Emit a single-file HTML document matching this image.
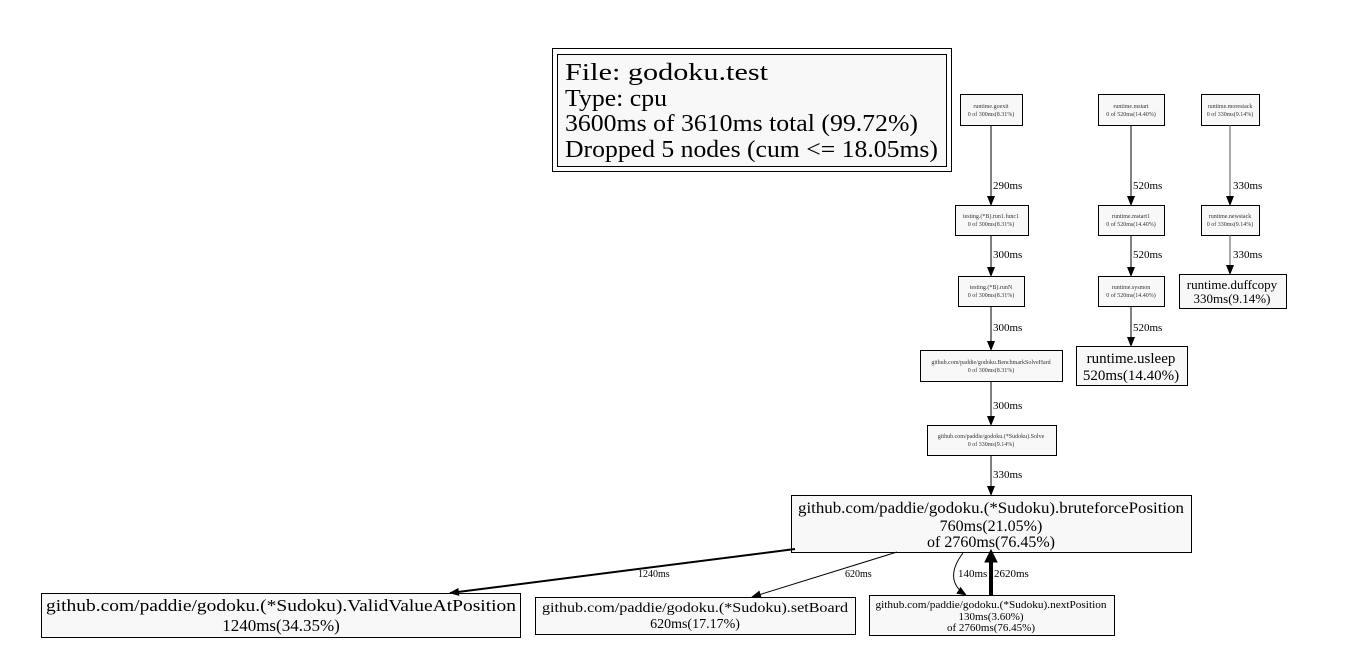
<!DOCTYPE html>
<html><head><meta charset="utf-8"><style>
html,body{margin:0;padding:0;background:#fff;}
svg{display:block;font-family:"Liberation Serif",serif;}
</style></head><body>
<svg width="1354" height="661" viewBox="0 0 1354 661" xmlns="http://www.w3.org/2000/svg">
<defs>
<marker id="a" markerWidth="10" markerHeight="10" refX="9" refY="5" orient="auto" markerUnits="userSpaceOnUse"><path d="M0,1 L10,5 L0,9 Z" fill="#000"/></marker>
</defs>
<g fill="#f8f8f8" stroke="#000" stroke-width="1">
<rect x="552.5" y="48.5" width="399" height="123" fill="#fff"/>
<rect x="557.5" y="54.5" width="389" height="112"/>
<rect x="960.5" y="94.5" width="62" height="31"/>
<rect x="1098.5" y="94.5" width="66" height="31"/>
<rect x="1201.5" y="94.5" width="58" height="31"/>
<rect x="955.5" y="205.5" width="73" height="30"/>
<rect x="1098.5" y="205.5" width="66" height="30"/>
<rect x="1201.5" y="205.5" width="58" height="30"/>
<rect x="958.5" y="276.5" width="66" height="30"/>
<rect x="1098.5" y="276.5" width="66" height="30"/>
<rect x="1179.5" y="274.5" width="107" height="34"/>
<rect x="920.5" y="350.5" width="142" height="31"/>
<rect x="1076.5" y="346.5" width="111" height="39"/>
<rect x="927.5" y="425.5" width="129" height="30"/>
<rect x="791.5" y="495.5" width="400" height="57"/>
<rect x="41.5" y="593.5" width="479" height="44"/>
<rect x="535.5" y="597.5" width="320" height="37"/>
<rect x="869.5" y="595.5" width="245" height="40"/>
</g>
<g font-size="24" fill="#000" lengthAdjust="spacingAndGlyphs">
<text x="565" y="80" textLength="203" lengthAdjust="spacingAndGlyphs">File: godoku.test</text>
<text x="565" y="106" textLength="102" lengthAdjust="spacingAndGlyphs">Type: cpu</text>
<text x="565" y="131" textLength="353" lengthAdjust="spacingAndGlyphs">3600ms of 3610ms total (99.72%)</text>
<text x="565" y="157" textLength="373" lengthAdjust="spacingAndGlyphs">Dropped 5 nodes (cum &lt;= 18.05ms)</text>
</g>
<g font-size="6" text-anchor="middle" fill="#333">
<text x="991" y="108">runtime.goexit</text><text x="991" y="116">0 of 300ms(8.31%)</text>
<text x="1131" y="108">runtime.mstart</text><text x="1131" y="116">0 of 520ms(14.40%)</text>
<text x="1230" y="108">runtime.morestack</text><text x="1230" y="116">0 of 330ms(9.14%)</text>
<text x="991" y="218">testing.(*B).run1.func1</text><text x="991" y="226">0 of 300ms(8.31%)</text>
<text x="1131" y="218">runtime.mstart1</text><text x="1131" y="226">0 of 520ms(14.40%)</text>
<text x="1230" y="218">runtime.newstack</text><text x="1230" y="226">0 of 330ms(9.14%)</text>
<text x="991" y="289">testing.(*B).runN</text><text x="991" y="297">0 of 300ms(8.31%)</text>
<text x="1131" y="289">runtime.sysmon</text><text x="1131" y="297">0 of 520ms(14.40%)</text>
<text x="991" y="364">github.com/paddie/godoku.BenchmarkSolveHard</text><text x="991" y="372">0 of 300ms(8.31%)</text>
<text x="991" y="438">github.com/paddie/godoku.(*Sudoku).Solve</text><text x="991" y="446">0 of 330ms(9.14%)</text>
</g>
<g text-anchor="middle" fill="#000">
<text x="1232" y="289" font-size="13">runtime.duffcopy</text><text x="1232" y="303" font-size="13">330ms(9.14%)</text>
<text x="1131" y="363" font-size="15">runtime.usleep</text><text x="1131" y="380" font-size="15">520ms(14.40%)</text>
<text x="991" y="513" font-size="16" textLength="386" lengthAdjust="spacingAndGlyphs">github.com/paddie/godoku.(*Sudoku).bruteforcePosition</text>
<text x="991" y="531" font-size="16">760ms(21.05%)</text>
<text x="991" y="547" font-size="16">of 2760ms(76.45%)</text>
<text x="281" y="611" font-size="17" textLength="470" lengthAdjust="spacingAndGlyphs">github.com/paddie/godoku.(*Sudoku).ValidValueAtPosition</text>
<text x="281" y="631" font-size="17">1240ms(34.35%)</text>
<text x="695" y="612" font-size="14" textLength="306" lengthAdjust="spacingAndGlyphs">github.com/paddie/godoku.(*Sudoku).setBoard</text>
<text x="695" y="628" font-size="14">620ms(17.17%)</text>
<text x="991" y="608" font-size="11" textLength="231" lengthAdjust="spacingAndGlyphs">github.com/paddie/godoku.(*Sudoku).nextPosition</text>
<text x="991" y="620" font-size="11">130ms(3.60%)</text>
<text x="991" y="631" font-size="11">of 2760ms(76.45%)</text>
</g>
<g stroke="#000" fill="none">
<line x1="991" y1="125" x2="991" y2="205" marker-end="url(#a)"/>
<line x1="1131" y1="125" x2="1131" y2="205" marker-end="url(#a)"/>
<line x1="1230" y1="125" x2="1230" y2="205" stroke="#555" marker-end="url(#a)"/>
<line x1="991" y1="235" x2="991" y2="276" marker-end="url(#a)"/>
<line x1="1131" y1="235" x2="1131" y2="276" marker-end="url(#a)"/>
<line x1="1230" y1="235" x2="1230" y2="274" stroke="#555" marker-end="url(#a)"/>
<line x1="991" y1="306" x2="991" y2="350" marker-end="url(#a)"/>
<line x1="1131" y1="306" x2="1131" y2="346" marker-end="url(#a)"/>
<line x1="991" y1="381" x2="991" y2="425" marker-end="url(#a)"/>
<line x1="991" y1="455" x2="991" y2="495" marker-end="url(#a)"/>
<line x1="795" y1="549" x2="450" y2="593" stroke-width="2" marker-end="url(#a)"/>
<line x1="897" y1="552" x2="752" y2="597" marker-end="url(#a)"/>
<path d="M963,553 C950,570 950,585 966,595" marker-end="url(#a)"/>
<line x1="991" y1="595" x2="991" y2="556" stroke-width="4"/>
<path d="M985,562 L991,550 L997,562 Z" fill="#000"/>
</g>
<g font-size="11" fill="#000">
<text x="993" y="189">290ms</text>
<text x="1133" y="189">520ms</text>
<text x="1233" y="189">330ms</text>
<text x="993" y="258">300ms</text>
<text x="1133" y="258">520ms</text>
<text x="1233" y="258">330ms</text>
<text x="993" y="331">300ms</text>
<text x="1133" y="331">520ms</text>
<text x="993" y="409">300ms</text>
<text x="993" y="478">330ms</text>
<text x="958" y="577">140ms</text>
<text x="994" y="577">2620ms</text>
<text x="845" y="577" font-size="10">620ms</text>
<text x="638" y="577" font-size="10">1240ms</text>
</g>
</svg>
</body></html>
